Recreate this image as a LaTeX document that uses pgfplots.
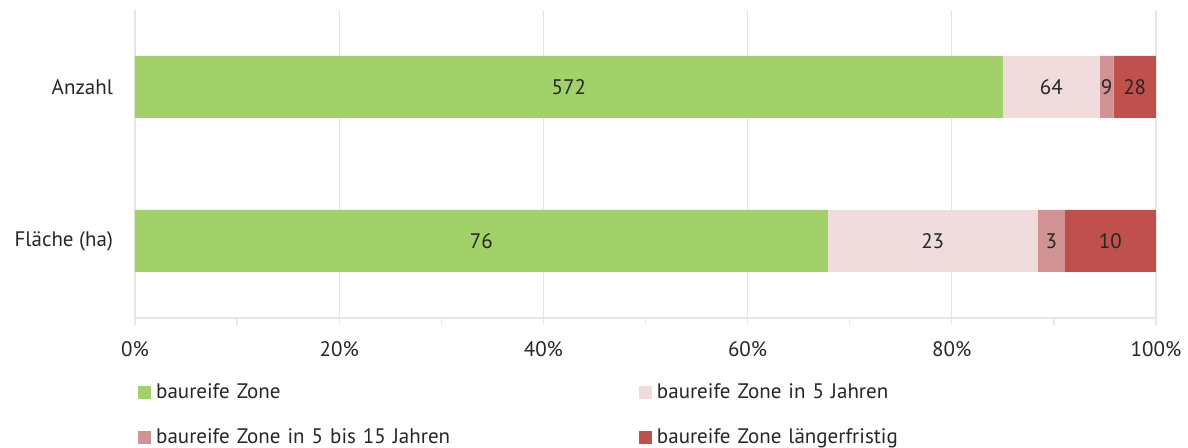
\documentclass[border=0pt]{standalone}
\usepackage{fontspec}
\setmainfont{PT Sans}
\usepackage{pgfplots}
\pgfplotsset{compat=1.18}
\usepackage{pgfplotstable}
\definecolor{cgreen}{HTML}{A2D16A}
\definecolor{clight}{HTML}{F0DCDC}
\definecolor{cmid}{HTML}{D09292}
\definecolor{cred}{HTML}{C0504E}
\definecolor{gridgray}{HTML}{E6E6E6}
\definecolor{txt}{HTML}{262626}
\pgfplotstableread{
y x lab
1 84.99 572
0 67.86 76
}\sA
\pgfplotstableread{
y x lab
1 9.51 64
0 20.54 23
}\sB
\pgfplotstableread{
y x lab
1 1.34 9
0 2.68 3
}\sC
\pgfplotstableread{
y x lab
1 4.15 28
0 8.91 10
}\sD
\begin{document}
\begin{tikzpicture}[font=\fontsize{10.5}{12.6}\selectfont, text=txt]
\useasboundingbox (-67.5pt,-65pt) rectangle (526.5pt,159pt);
\begin{axis}[
  at={(0,0)}, anchor=south west,
  xbar stacked, bar width=31pt,
  scale only axis, width=510.5pt, height=154pt,
  xmin=0, xmax=100, ymin=-0.5, ymax=1.5,
  ytick={0,1}, yticklabels={Fläche (ha),Anzahl},
  ytick style={draw=none},
  extra y ticks={-0.5,0.5}, extra y tick labels={},
  extra y tick style={tick style={draw=gridgray, line width=0.6pt}, major tick length=3.5pt, tick align=outside},
  yticklabel style={xshift=-4pt},
  xtick={0,20,...,100}, xticklabel={\pgfmathprintnumber{\tick}\%},
  minor x tick num=1,
  tick align=outside, major tick length=3.5pt, minor tick length=3.5pt,
  x tick style={draw=gridgray, line width=0.6pt},
  xticklabel style={yshift=-4.5pt},
  xmajorgrids, grid style={draw=gridgray, line width=0.6pt},
  axis x line*=bottom, axis y line*=left,
  axis line style={draw=gridgray, line width=0.6pt},
  y axis line style={draw=none},
  /pgf/number format/assume math mode=true,
  point meta=explicit symbolic,
  nodes near coords,
  every node near coord/.append style={anchor=center, text=txt, font=\fontsize{10.5}{12.6}\selectfont},
  legend style={at={(1.5pt,-31.5pt)}, anchor=north west, draw=none, legend columns=2,
    row sep=11.5pt, font=\fontsize{10.5}{12.6}\selectfont, inner sep=0pt,
    nodes={text width=239pt, align=left, inner xsep=2.5pt, inner ysep=1pt}},
  legend cell align=left,
  legend image code/.code={\fill[#1] (0pt,-3.2pt) rectangle (6.4pt,3.2pt);},
]
\addplot[fill=cgreen, draw=none] table[x=x, y=y, meta=lab] {\sA};
\addplot[fill=clight, draw=none] table[x=x, y=y, meta=lab] {\sB};
\addplot[fill=cmid, draw=none] table[x=x, y=y, meta=lab] {\sC};
\addplot[fill=cred, draw=none] table[x=x, y=y, meta=lab] {\sD};
\legend{baureife Zone, baureife Zone in 5 Jahren, baureife Zone in 5 bis 15 Jahren, baureife Zone längerfristig}
\end{axis}
\end{tikzpicture}
\end{document}
